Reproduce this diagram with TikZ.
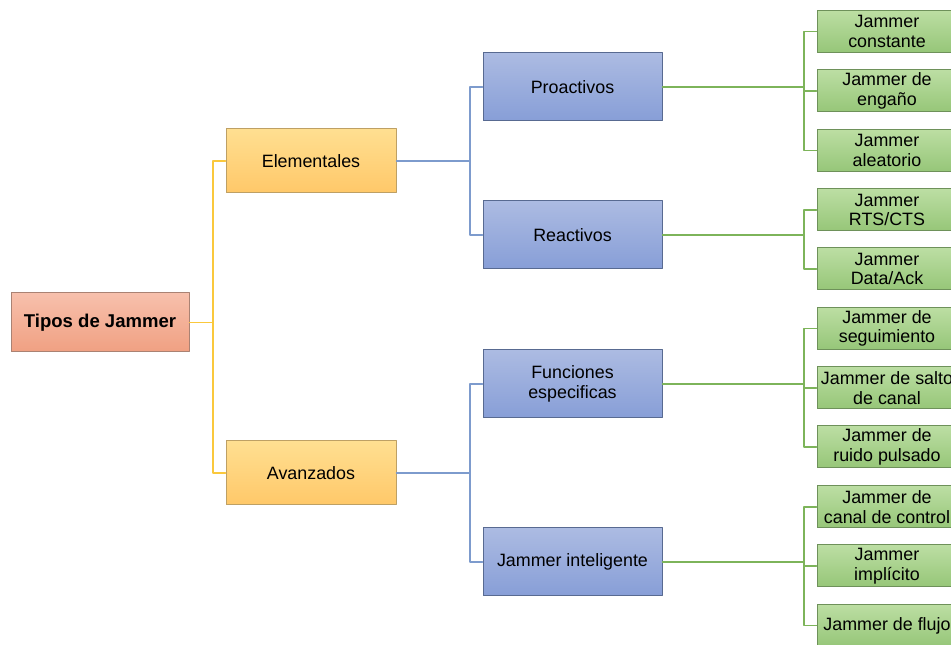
\documentclass[tikz,border=0pt]{standalone}
\usepackage{fontspec}
\setmainfont{Liberation Sans}

\definecolor{rootTop}{RGB}{247,192,172}
\definecolor{rootBot}{RGB}{240,160,130}
\definecolor{rootLine}{RGB}{170,130,115}
\definecolor{yelTop}{RGB}{255,223,145}
\definecolor{yelBot}{RGB}{255,200,105}
\definecolor{yelLine}{RGB}{190,160,100}
\definecolor{bluTop}{RGB}{172,187,226}
\definecolor{bluBot}{RGB}{135,158,215}
\definecolor{bluLine}{RGB}{88,106,145}
\definecolor{grnTop}{RGB}{188,222,163}
\definecolor{grnBot}{RGB}{150,198,120}
\definecolor{grnLine}{RGB}{110,145,90}
\definecolor{yelWire}{RGB}{250,200,60}
\definecolor{bluWire}{RGB}{125,155,205}
\definecolor{grnWire}{RGB}{125,180,90}

\tikzset{
  box/.style = {draw, line width = 0.75pt, align = center, inner sep = 1pt,
    font = \fontsize{13.4}{14.6}\selectfont},
  rootbox/.style = {box, draw = rootLine, top color = rootTop, bottom color = rootBot,
    minimum width = 133.5pt, minimum height = 44.25pt,
    font = \fontsize{13.9}{15}\selectfont\bfseries},
  levelone/.style = {box, draw = yelLine, top color = yelTop, bottom color = yelBot,
    minimum width = 127.5pt, minimum height = 48pt},
  leveltwo/.style = {box, draw = bluLine, top color = bluTop, bottom color = bluBot,
    minimum width = 134.25pt, minimum height = 51pt},
  leaf/.style = {box, draw = grnLine, top color = grnTop, bottom color = grnBot,
    minimum width = 105pt, minimum height = 31.5pt},
  wire/.style = {line width = 1.1pt}
}

\newcommand{\leaves}[3]{
  \foreach \name/\ypos/\label in {#3} {
    \node[leaf] (\name) at (887, \ypos) {\label};
    \draw[wire, grnWire] (#1) |- (\name.west);
  }
  \draw[wire, grnWire] (#2.east) -- (#1);}

\begin{document}
\begin{tikzpicture}[x = 0.75pt, y = -0.75pt, line cap = round, line join = round]
  \useasboundingbox (0, 0) rectangle (951, 645);

  \node[rootbox] (tipos) at (100, 322.5) {Tipos de Jammer};

  \node[levelone] (elem) at (311, 161) {Elementales};
  \node[levelone] (avan) at (311, 473) {Avanzados};

  \coordinate (busRoot) at (213, 322.5);
  \draw[wire, yelWire] (tipos.east) -- (busRoot);
  \draw[wire, yelWire] (busRoot) |- (elem.west);
  \draw[wire, yelWire] (busRoot) |- (avan.west);

  \node[leveltwo] (proac) at (572.5, 87) {Proactivos};
  \node[leveltwo] (reac) at (572.5, 235) {Reactivos};
  \node[leveltwo] (func) at (572.5, 384) {Funciones\\especificas};
  \node[leveltwo] (intel) at (572.5, 562) {Jammer inteligente};

  \coordinate (busElem) at (470, 161);
  \coordinate (busAvan) at (470, 473);
  \draw[wire, bluWire] (elem.east) -- (busElem);
  \draw[wire, bluWire] (busElem) |- (proac.west);
  \draw[wire, bluWire] (busElem) |- (reac.west);
  \draw[wire, bluWire] (avan.east) -- (busAvan);
  \draw[wire, bluWire] (busAvan) |- (func.west);
  \draw[wire, bluWire] (busAvan) |- (intel.west);

  \coordinate (busProac) at (804, 87);
  \coordinate (busReac) at (804, 235);
  \coordinate (busFunc) at (804, 384);
  \coordinate (busIntel) at (804, 562);

  \leaves{busProac}{proac}{constante/31.5/{Jammer\\constante},
    engano/91/{Jammer de\\engaño}, aleatorio/150.5/{Jammer\\aleatorio}}
  \leaves{busReac}{reac}{rts/210/{Jammer\\RTS/CTS}, data/269/{Jammer\\Data/Ack}}
  \leaves{busFunc}{func}{seguim/328.5/{Jammer de\\seguimiento},
    salto/388/{Jammer de salto\\de canal}, ruido/447/{Jammer de\\ruido pulsado}}
  \leaves{busIntel}{intel}{control/507/{Jammer de\\canal de control},
    implicito/566/{Jammer\\implícito}, flujo/625.5/{Jammer de flujo}}
\end{tikzpicture}
\end{document}
